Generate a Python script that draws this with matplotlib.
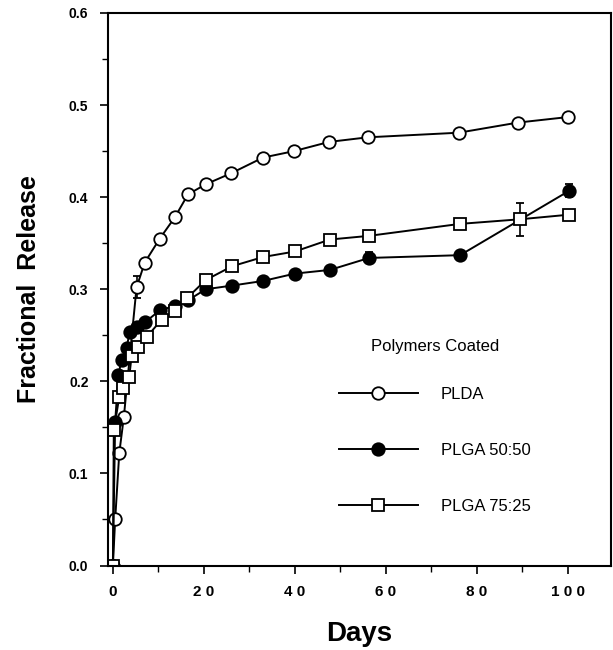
import numpy as np
import matplotlib.pyplot as plt
from matplotlib.lines import Line2D

# data
days_plda = [0, 0.5, 1.4, 2.4, 5.2, 7, 10.3, 13.6, 16.5, 20.4, 26, 33, 39.8, 47.5, 56, 76, 89, 100]
rel_plda = [0.0, 0.050, 0.122, 0.161, 0.302, 0.329, 0.355, 0.378, 0.403, 0.414, 0.426,
            0.443, 0.450, 0.460, 0.465, 0.470, 0.481, 0.487]
err_plda = [0, 0, 0, 0, 0.012, 0, 0, 0, 0, 0, 0, 0, 0, 0, 0, 0, 0, 0]

days_5050 = [0, 0.5, 1.2, 1.9, 3.0, 3.7, 5.2, 7, 10.3, 13.6, 16.5, 20.4, 26.2, 33, 40, 47.7, 56.3, 76.3, 100.3]
rel_5050 = [0.0, 0.156, 0.207, 0.223, 0.236, 0.254, 0.259, 0.264, 0.277, 0.282, 0.288,
            0.300, 0.304, 0.309, 0.317, 0.321, 0.334, 0.337, 0.407]
err_5050 = [0, 0, 0, 0, 0, 0, 0, 0, 0, 0, 0, 0, 0, 0, 0, 0, 0.006, 0, 0.007]

days_7525 = [0, 0.2, 1.4, 2.3, 3.6, 4.1, 5.6, 7.4, 10.7, 13.6, 16.2, 20.4, 26.2, 33, 40, 47.7, 56.3, 76.3, 89.5, 100.3]
rel_7525 = [0.0, 0.147, 0.183, 0.193, 0.205, 0.227, 0.237, 0.248, 0.267, 0.276, 0.290,
            0.310, 0.325, 0.335, 0.341, 0.354, 0.358, 0.371, 0.376, 0.381]
err_7525 = [0, 0, 0, 0, 0, 0, 0, 0, 0, 0, 0, 0, 0, 0, 0, 0, 0, 0, 0.018, 0]

xticks = [0, 20, 40, 60, 80, 100]
xtick_labels = ["0", "2 0", "4 0", "6 0", "8 0", "1 0 0"]
yticks = [0.0, 0.1, 0.2, 0.3, 0.4, 0.5, 0.6]

plt.rcParams['font.family'] = ['Liberation Sans', 'DejaVu Sans']

fig = plt.figure(figsize=(6.13, 6.5), dpi=100)
ax = fig.add_axes([0.176, 0.130, 0.821, 0.850])

style = dict(color='black', lw=1.4, ms=9, mew=1.3, capsize=3, elinewidth=1.2, ecolor='black')
ax.errorbar(days_plda, rel_plda, yerr=err_plda, marker='o', mfc='white', mec='black', **style)
ax.errorbar(days_5050, rel_5050, yerr=err_5050, marker='o', mfc='black', mec='black', **style)
ax.errorbar(days_7525, rel_7525, yerr=err_7525, marker='s', mfc='white', mec='black', **style)

ax.set_xlim(-1.1, 109.5)
ax.set_ylim(0, 0.6)
ax.set_xticks(xticks)
ax.set_xticklabels(xtick_labels, fontweight='bold', fontsize=11)
ax.set_xticks(np.arange(10, 110, 20), minor=True)
ax.set_yticks(yticks)
ax.set_yticklabels([f"{v:.1f}" for v in yticks], fontweight='bold', fontsize=10)
ax.set_yticks(np.arange(0.05, 0.6, 0.1), minor=True)
ax.tick_params(direction='out', length=6, width=1.2, pad=8)
ax.tick_params(which='minor', direction='out', length=4, width=1)
for s in ax.spines.values():
    s.set_linewidth(1.5)

ax.set_xlabel("Days", fontsize=20, fontweight='bold', labelpad=16)
ax.set_ylabel("Fractional  Release", fontsize=18, fontweight='bold', labelpad=20)

handles = [
    Line2D([], [], color='black', lw=1.4, marker='o', ms=9, mew=1.3, mfc='white', mec='black'),
    Line2D([], [], color='black', lw=1.4, marker='o', ms=9, mew=1.3, mfc='black', mec='black'),
    Line2D([], [], color='black', lw=1.4, marker='s', ms=9, mew=1.3, mfc='white', mec='black'),
]
labels = ["PLDA", "PLGA 50:50", "PLGA 75:25"]
leg = ax.legend(handles, labels, title="Polymers Coated", frameon=False, loc='upper left',
                bbox_to_anchor=(0.43, 0.438), handlelength=4.7, handletextpad=1.4,
                labelspacing=2.45, fontsize=12, title_fontsize=12)
leg._legend_box.align = 'center'
leg._legend_box.sep = 24

fig.savefig("out.png", dpi=100)
